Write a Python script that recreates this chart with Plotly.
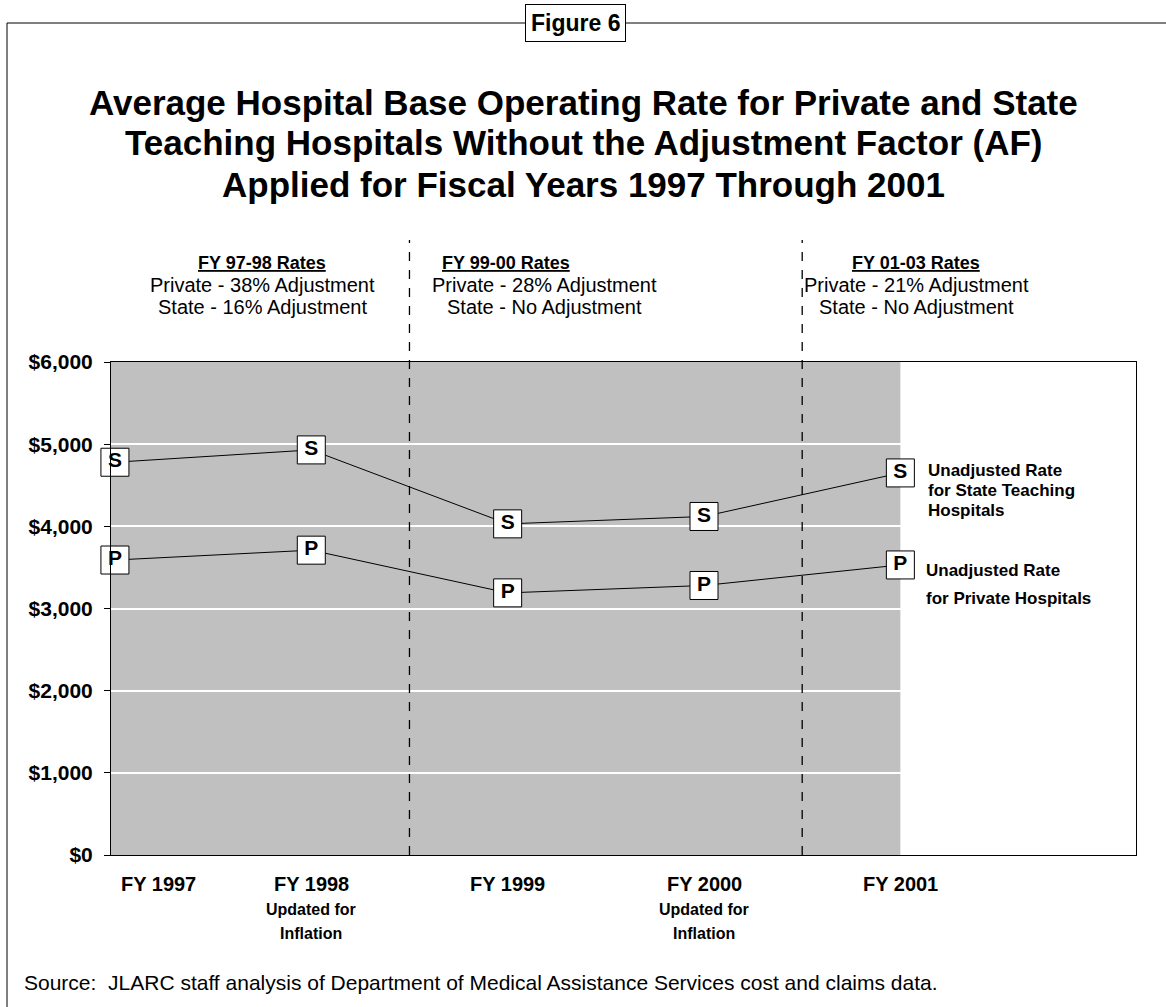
import plotly.graph_objects as go

# ---------------- data ----------------
years = [1997, 1998, 1999, 2000, 2001]
state_rates = [4780, 4930, 4030, 4120, 4650]
private_rates = [3590, 3710, 3190, 3280, 3530]
state_marker = "S"
private_marker = "P"
x_labels = ["FY 1997", "FY 1998", "FY 1999", "FY 2000", "FY 2001"]
x_sublabels = [[], ["Updated for", "Inflation"], [], ["Updated for", "Inflation"], []]
y_ticks = [0, 1000, 2000, 3000, 4000, 5000, 6000]
period_titles = ["FY 97-98 Rates", "FY 99-00 Rates", "FY 01-03 Rates"]
period_private = ["Private - 38% Adjustment", "Private - 28% Adjustment", "Private - 21% Adjustment"]
period_state = ["State - 16% Adjustment", "State - No Adjustment", "State - No Adjustment"]
period_breaks = [1998.5, 2000.5]
title_lines = ["Average Hospital Base Operating Rate for Private and State",
               "Teaching Hospitals Without the Adjustment Factor (AF)",
               "Applied for Fiscal Years 1997 Through 2001"]
state_label = ["Unadjusted Rate", "for State Teaching", "Hospitals"]
private_label = ["Unadjusted Rate", "for Private Hospitals"]
source_text = "Source:  JLARC staff analysis of Department of Medical Assistance Services cost and claims data."

FONT = "Liberation Sans, Arial, sans-serif"

# plot area in pixels
X0, X1, Y0, Y1 = 111, 1136, 362, 855
def px(x):
    return (x - X0) / (X1 - X0)
def py(y):
    return (Y1 - y) / (Y1 - Y0)

fig = go.Figure()

for vals, letter in [(state_rates, state_marker), (private_rates, private_marker)]:
    fig.add_trace(go.Scatter(
        x=years, y=vals, mode="lines+markers+text",
        text=[f"<b>{letter}</b>"] * len(vals),
        textposition="middle center",
        textfont=dict(family=FONT, size=21, color="black"),
        line=dict(color="black", width=1),
        marker=dict(symbol="square", size=28, color="white",
                    line=dict(color="black", width=1)),
        cliponaxis=False, showlegend=False, hoverinfo="skip",
    ))

shapes = []
# shaded region (ends at FY 2001)
shapes.append(dict(type="rect", xref="x", yref="paper", x0=1996.9, x1=years[-1],
                   y0=0, y1=1, fillcolor="#C0C0C0", line=dict(width=0), layer="below"))
# period dividers
for b in period_breaks:
    shapes.append(dict(type="line", xref="x", yref="paper", x0=b, x1=b,
                       y0=0, y1=py(240), line=dict(color="black", width=1.3, dash="dash")))
# frame
shapes.append(dict(type="line", xref="paper", yref="paper", x0=px(7), x1=px(1166),
                   y0=py(23), y1=py(23), line=dict(color="black", width=1)))
shapes.append(dict(type="line", xref="paper", yref="paper", x0=px(7), x1=px(7),
                   y0=py(23), y1=py(1010), line=dict(color="black", width=1)))

annotations = []
def note(x, y, text, size, xanchor="center", bold=False, family=FONT, **kw):
    t = f"<b>{text}</b>" if bold else text
    d = dict(xref="paper", yref="paper", x=px(x), y=py(y), text=t, showarrow=False,
             xanchor=xanchor, yanchor="middle", font=dict(family=family, size=size, color="black"))
    d.update(kw)
    annotations.append(d)

note(575, 23, "Figure 6", 23, bold=True, bgcolor="white", bordercolor="black",
     borderwidth=1, borderpad=5)
for yy, line in zip([102, 142, 184], title_lines):
    note(583, yy, line, 35, bold=True)

header_px = [262, 506, 916]
lines_px = [262, 544, 916]
for hx, lx, t, p, s in zip(header_px, lines_px, period_titles, period_private, period_state):
    note(hx, 263, f"<u>{t}</u>", 18, bold=True)
    note(lx, 285, p, 20)
    note(lx, 307, s, 20)

# x-axis labels
for i, (yr, lab, subs) in enumerate(zip(years, x_labels, x_sublabels)):
    annotations.append(dict(xref="x", yref="paper", x=yr, y=py(884),
                            text=f"<b>{lab}</b>", showarrow=False,
                            xanchor="left" if i == 0 else "center", yanchor="middle",
                            xshift=4 if i == 0 else 0,
                            font=dict(family=FONT, size=20, color="black")))
    for j, sub in enumerate(subs):
        annotations.append(dict(xref="x", yref="paper", x=yr, y=py(909 + 24 * j),
                                text=f"<b>{sub}</b>", showarrow=False,
                                xanchor="center", yanchor="middle",
                                font=dict(family=FONT, size=16, color="black")))

# series labels
for j, line in enumerate(state_label):
    note(926, 470 + 20 * j, line, 17, xanchor="left", bold=True)
for j, line in enumerate(private_label):
    note(924, 570 + 28 * j, line, 17, xanchor="left", bold=True)

note(22, 982, source_text, 21, xanchor="left")

fig.update_layout(
    width=1166, height=1007, autosize=False,
    margin=dict(l=X0, r=1166 - X1, t=Y0, b=1007 - Y1),
    paper_bgcolor="white", plot_bgcolor="white",
    shapes=shapes, annotations=annotations, showlegend=False,
    xaxis=dict(range=[1996.98, 2002.2], showgrid=False, zeroline=False,
               showticklabels=False, showline=True, linecolor="black", linewidth=1,
               mirror=True, ticks=""),
    yaxis=dict(range=[0, 6000], tickvals=y_ticks,
               ticktext=[f"${v:,}" for v in y_ticks],
               showgrid=True, gridcolor="white", gridwidth=1.5, zeroline=False,
               showline=True, linecolor="black", linewidth=1, mirror=True,
               ticks="outside", ticklen=6, tickcolor="black", ticklabelstandoff=7,
               tickfont=dict(family=FONT, size=21, color="black", weight="bold")),
)

fig.write_html("out.html")
